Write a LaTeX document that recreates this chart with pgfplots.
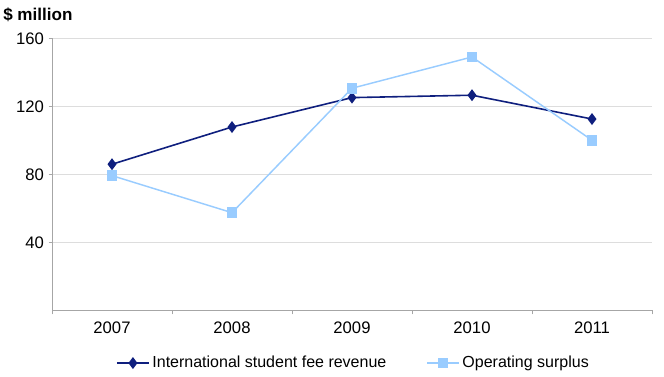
\documentclass[border=0pt]{standalone}
\usepackage{pgfplots}
\pgfplotsset{compat=1.18}
\usepackage{fontspec}
\setmainfont{Liberation Sans}
\definecolor{navyline}{HTML}{0F1F7E}
\definecolor{lightblue}{HTML}{99CCFF}
\definecolor{gridgray}{HTML}{DDDDDD}
\definecolor{axisgray}{HTML}{A6A6A6}
\begin{document}
\begin{tikzpicture}[x=0.75pt,y=0.75pt]
\useasboundingbox (0,0) rectangle (664,376);
\node[anchor=west,inner sep=0pt,font=\fontsize{12.8}{14}\selectfont\bfseries] at (3,361) {\$ million};
\begin{axis}[
  at={(39pt,49.3pt)}, anchor=south west,
  scale only axis,
  width=450pt, height=204pt,
  xmin=-0.5, xmax=4.5,
  ymin=0, ymax=160,
  xtick={0,1,2,3,4},
  xticklabels={2007,2008,2009,2010,2011},
  minor xtick={-0.5,0.5,1.5,2.5,3.5,4.5},
  ytick={40,80,120,160},
  axis x line*=bottom,
  axis y line*=left,
  axis line style={axisgray, line width=0.75pt},
  x axis line style={-},
  y axis line style={-},
  ymajorgrids,
  grid style={gridgray, line width=0.75pt},
  tick style={axisgray, line width=0.75pt},
  major x tick style={draw=none},
  tick align=outside,
  major tick length=2.5pt,
  minor tick length=3pt,
  /pgf/number format/assume math mode=true,
  tick label style={font=\fontsize{12.5}{14}\selectfont, text=black},
  yticklabel style={xshift=0pt},
  xticklabel style={yshift=-3pt},
  legend columns=2,
  legend style={at={(0.503,-0.194)}, anchor=center, draw=none, fill=none,
    font=\fontsize{12}{14}\selectfont,
    /tikz/column 2/.style={column sep=28pt}},
  legend image code/.code={\draw[mark repeat=2,mark phase=2] plot coordinates {(0pt,0pt) (12pt,0pt) (24pt,0pt)};},
]
\addplot[navyline, line width=1.2pt, mark=diamond*, mark size=3.5pt, mark options={solid,fill=navyline}]
  coordinates {(0,85.9) (1,107.8) (2,125.1) (3,126.5) (4,112.5)};
\addlegendentry{International student fee revenue}
\addplot[lightblue, line width=1.1pt, mark=square*, mark size=3.5pt, mark options={solid,fill=lightblue}]
  coordinates {(0,79.2) (1,57.4) (2,130.6) (3,149.0) (4,100.0)};
\addlegendentry{Operating surplus}
\end{axis}
\end{tikzpicture}
\end{document}
